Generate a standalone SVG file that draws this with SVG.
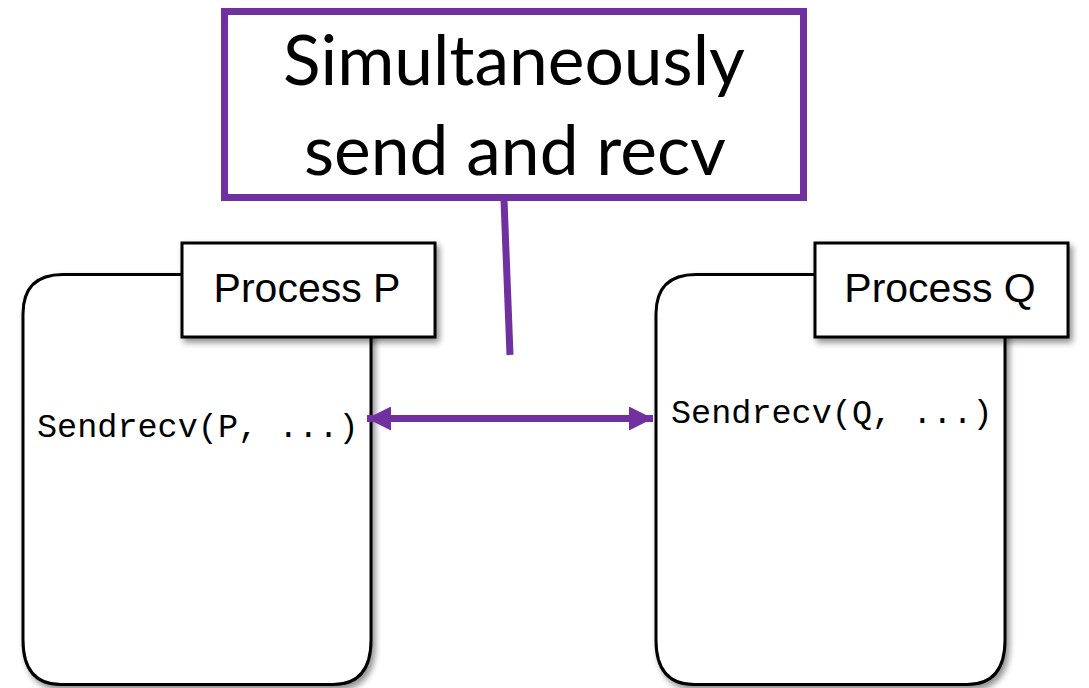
<svg xmlns="http://www.w3.org/2000/svg" width="1089" height="688" viewBox="0 0 1089 688">
  <style>
    .proc { fill: #ffffff; stroke: #000000; stroke-width: 3; }
    .tag { fill: #ffffff; stroke: #000000; stroke-width: 3; }
    .tag-label { font-family: "Liberation Sans", Arial, sans-serif; font-size: 41px; fill: #000000; text-anchor: middle; }
    .code { font-family: "Liberation Mono", "Courier New", monospace; font-size: 33.5px; fill: #000000; }
    .callout { fill: #ffffff; stroke: #7030A0; stroke-width: 7; }
    .callout-text { font-family: Lato, "Open Sans", sans-serif; font-size: 69.5px; fill: #000000; text-anchor: middle; }
    .link { stroke: #7030A0; stroke-width: 7; fill: none; }
  </style>
  <defs>
    <filter id="shadow" x="-10%" y="-10%" width="130%" height="130%">
      <feGaussianBlur in="SourceAlpha" stdDeviation="3"/>
      <feOffset dx="3" dy="4" result="off"/>
      <feComponentTransfer><feFuncA type="linear" slope="0.45"/></feComponentTransfer>
      <feMerge><feMergeNode/><feMergeNode in="SourceGraphic"/></feMerge>
    </filter>
    <marker id="head" viewBox="0 0 10 10" refX="10" refY="5" markerUnits="userSpaceOnUse" markerWidth="25" markerHeight="24" orient="auto-start-reverse">
      <path d="M0,0 L10,5 L0,10 Z" fill="#7030A0"/>
    </marker>
  </defs>

  <rect width="1089" height="688" fill="#ffffff"/>

  <!-- Process P: rounded container -->
  <g id="process-p">
    <path class="proc" filter="url(#shadow)" d="M63,274.5 H371 V640 Q371,684.5 333,684.5 H61 Q23,684.5 23,640 V314 Q23,274.5 63,274.5 Z"/>
    <text class="code" x="37" y="437">Sendrecv(P, ...)</text>
  </g>
  <g id="process-p-tag">
    <rect class="tag" filter="url(#shadow)" x="182" y="243" width="253" height="94"/>
    <text class="tag-label" x="307" y="302">Process P</text>
  </g>

  <!-- Process Q: rounded container -->
  <g id="process-q">
    <path class="proc" filter="url(#shadow)" d="M696,274.5 H1005 V640 Q1005,684.5 967,684.5 H694 Q656,684.5 656,640 V314 Q656,274.5 696,274.5 Z"/>
    <text class="code" x="671" y="423">Sendrecv(Q, ...)</text>
  </g>
  <g id="process-q-tag">
    <rect class="tag" filter="url(#shadow)" x="815" y="243" width="253" height="94"/>
    <text class="tag-label" x="940" y="302">Process Q</text>
  </g>

  <!-- Callout -->
  <g id="callout">
    <rect class="callout" x="224.5" y="11.5" width="579" height="186"/>
    <text class="callout-text" x="514" y="85">Simultaneously</text>
    <text class="callout-text" x="515" y="175">send and recv</text>
  </g>

  <!-- Connectors -->
  <g id="connectors">
    <line class="link" x1="504" y1="200" x2="510" y2="355"/>
    <line class="link" x1="367" y1="418.5" x2="653" y2="418.5" marker-start="url(#head)" marker-end="url(#head)"/>
  </g>
</svg>
